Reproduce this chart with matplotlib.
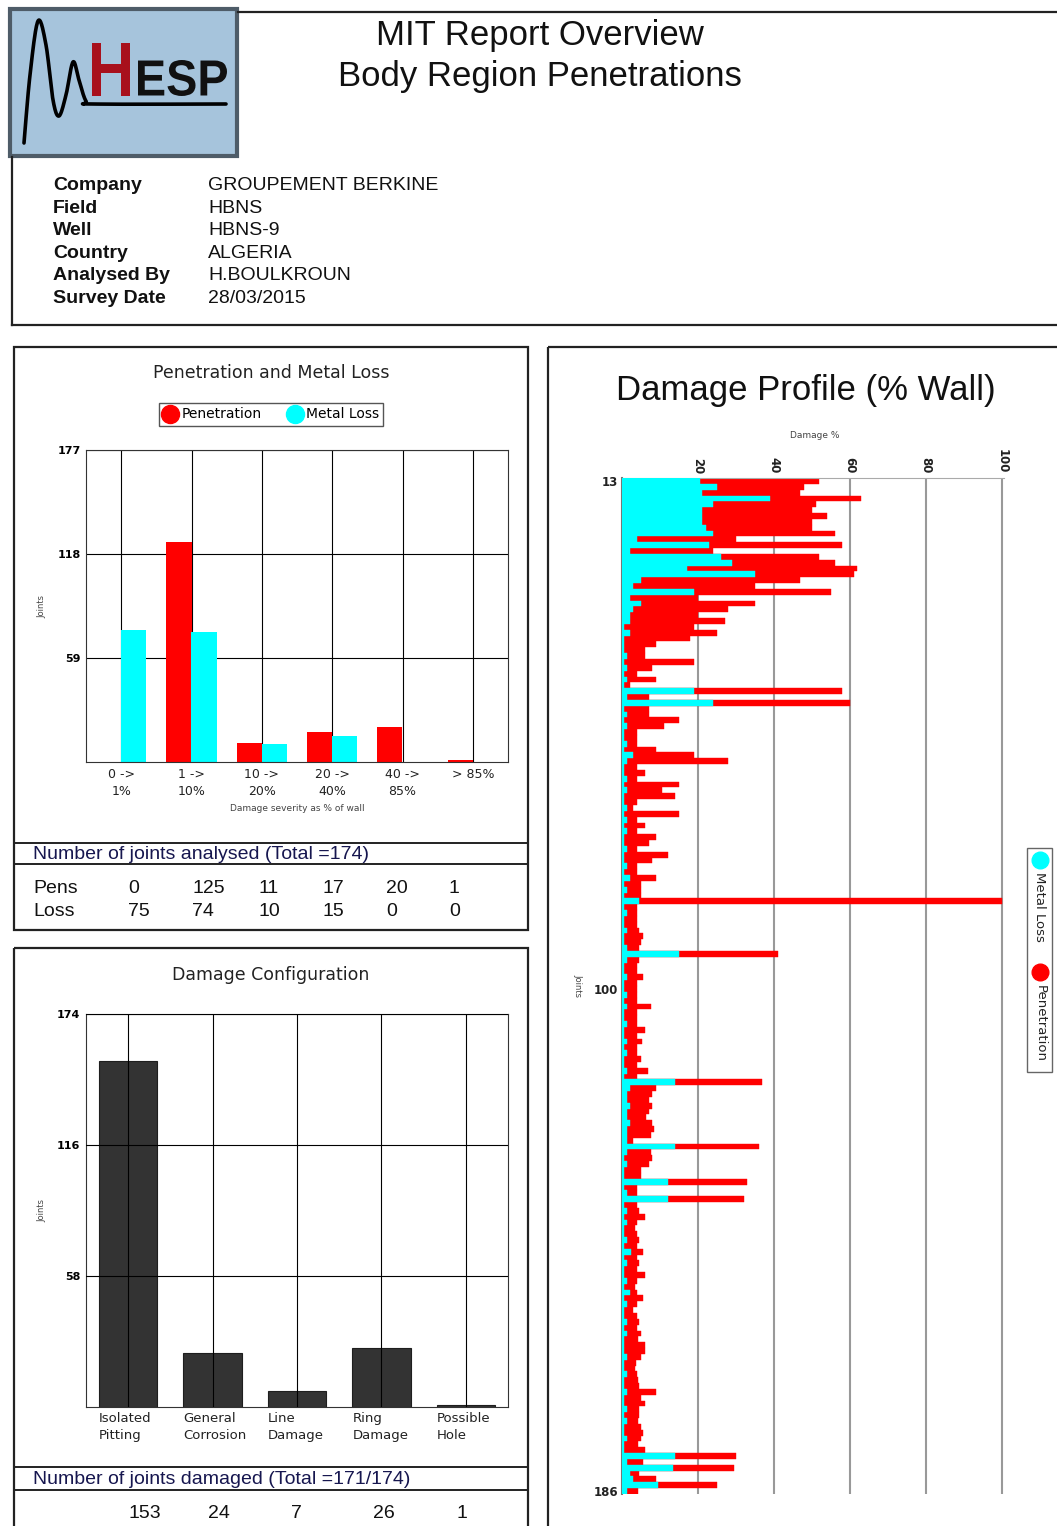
import numpy as np
import matplotlib
matplotlib.use("Agg")
import matplotlib.pyplot as plt
from matplotlib.patches import Rectangle, PathPatch
from matplotlib.textpath import TextPath
from matplotlib.font_manager import FontProperties
from matplotlib.transforms import Affine2D
from matplotlib.lines import Line2D

W, H, DPI = 1057, 1526, 100
RED = "#ff0000"
CYAN = "#00ffff"
NAVY = "#16164f"
SANS = "Liberation Sans"

# ---------------- report header ----------------
title_lines = ["MIT Report Overview", "Body Region Penetrations"]
info_labels = ["Company", "Field", "Well", "Country", "Analysed By", "Survey Date"]
info_values = ["GROUPEMENT BERKINE", "HBNS", "HBNS-9", "ALGERIA", "H.BOULKROUN", "28/03/2015"]

# ---------------- penetration / metal loss histogram ----------------
severity_bins = ["0 ->\n1%", "1 ->\n10%", "10 ->\n20%", "20 ->\n40%", "40 ->\n85%", "> 85%"]
pen_counts = [0, 125, 11, 17, 20, 1]
loss_counts = [75, 74, 10, 15, 0, 0]
severity_yticks = [59, 118, 177]
joints_analysed = 174

# ---------------- damage configuration ----------------
config_types = ["Isolated\nPitting", "General\nCorrosion", "Line\nDamage", "Ring\nDamage", "Possible\nHole"]
config_counts = [153, 24, 7, 26, 1]
config_yticks = [58, 116, 174]
joints_damaged = 171

# ---------------- damage profile, % of wall per joint (joints 13..186) ----------------
first_joint = 13
penetration = [
    # 13-40
    52, 48, 47, 63, 51, 50, 54, 50, 50, 56, 30, 58, 24, 52, 56, 62, 61, 47, 35, 55,
    20, 35, 28, 20, 27, 19, 25, 18,
    # 41-84
    9, 6, 6, 19, 8, 4, 9, 2, 58, 7, 60, 7, 7, 15, 11, 4, 4, 4, 9, 19,
    28, 4, 6, 4, 15, 10.5, 14, 4, 3, 15, 4, 6, 4, 9, 7, 4, 12, 8, 4, 4,
    9, 5, 5, 5,
    # 85
    100,
    # 86-93
    4, 4, 4, 4, 4.6, 5.5, 5, 4.6,
    # 94
    41,
    # 95-115
    4.6, 4, 4, 5.5, 4, 4, 4, 4, 7.6, 4, 4, 4, 6, 4, 5.3, 4, 4, 5, 4, 6.8, 4,
    # 116
    37,
    # 117-126
    9, 8, 7, 8, 7, 6.3, 8, 8.5, 7.6, 3,
    # 127
    36,
    # 128-132
    7.6, 8, 7, 5, 5,
    # 133-136
    33, 4, 4, 32,
    # 137-161
    4, 4.6, 6, 4, 3.3, 4, 4.6, 4, 5.5, 4, 4.6, 4, 6, 4, 3.3, 4, 5.5, 4, 3, 4,
    4.6, 4, 5, 4.3, 6,
    # 162-179
    6, 5, 3.8, 3.4, 4, 4.3, 4.5, 9, 5, 6, 4.5, 4.5, 4.3, 5, 5.6, 5, 4.3, 6,
    # 180-186
    30, 5.6, 29.6, 4.6, 9, 25, 4.3,
]
metal_loss = [
    # 13-40
    20.5, 25, 21, 39, 24, 21, 21, 21, 22, 24, 4, 23, 2, 26, 29, 17, 35, 5, 3, 19,
    2, 5, 3, 2, 2, 0.6, 2, 0.6,
    # 41-84
    0.6, 0.6, 1.2, 0.6, 1.2, 0.6, 1.2, 0.6, 19, 1.2, 24, 0.6, 1.2, 0.6, 1.2, 0.6, 0.6, 1.2, 0.6, 3,
    1.2, 0.6, 0.6, 1.2, 0.6, 1.2, 0.6, 0.6, 1.2, 0.6, 1.2, 0.6, 1.2, 0.6, 0.6, 1.2, 0.6, 0.6, 1.2, 0.6,
    2, 0.6, 1.2, 0.6,
    # 85
    4.5,
    # 86-93
    0.6, 1.2, 0.6, 0.6, 1.2, 0.6, 0.6, 1.2,
    # 94
    15,
    # 95-115
    1.2, 0.6, 0.6, 1.2, 0.6, 0.6, 1.2, 0.6, 1.2, 0.6, 0.6, 1.2, 0.6, 0.6, 1.2, 0.6, 1.2, 0.6, 0.6, 1.2, 0.6,
    # 116
    14,
    # 117-126
    2, 1.2, 1.2, 2, 1.2, 1.2, 2, 1.2, 1.2, 1.2,
    # 127
    14,
    # 128-132
    1.2, 0.6, 1.2, 0.6, 0.6,
    # 133-136
    12, 0.6, 1.2, 12,
    # 137-161
    0.6, 1.2, 0.6, 1.2, 0.6, 0.6, 1.2, 0.6, 2.5, 0.6, 1.2, 0.6, 0.6, 1.2, 0.6, 2, 0.6, 1.2, 0.6, 0.6,
    1.2, 0.6, 1.2, 0.6, 0.6,
    # 162-179
    0.6, 1.2, 0.6, 0.6, 1.2, 0.6, 0.6, 1.2, 0.6, 0.6, 1.2, 0.6, 1.2, 0.6, 0.6, 1.2, 0.6, 0.6,
    # 180-186
    14, 1.2, 13.5, 2, 3, 9.5, 1.2,
]
profile_xticks = [20, 40, 60, 80, 100]
profile_yticks = [13, 100, 186]

# ================= figure and page layer (pixel coordinates) =================
fig = plt.figure(figsize=(W / DPI, H / DPI), dpi=DPI)
fig.patch.set_facecolor("white")
page = fig.add_axes([0, 0, 1, 1])
page.set_xlim(0, W)
page.set_ylim(H, 0)
page.axis("off")


def px_axes(x0, y0, x1, y1):
    return fig.add_axes([x0 / W, 1 - y1 / H, (x1 - x0) / W, (y1 - y0) / H])


def rule(xs, ys, lw=1.6, color="#222222"):
    page.plot(xs, ys, color=color, lw=lw, solid_capstyle="projecting")


# header frame
rule([238, W], [12, 12])
rule([12, 12], [157, 325])
rule([12, W], [325, 325])

# logo block
page.add_patch(Rectangle((10, 9), 227, 147, facecolor="#a6c4dc", edgecolor="#4e5c68", lw=3))


def catmull_rom(points, n=16):
    p = np.asarray(points, float)
    p = np.vstack([p[0], p, p[-1]])
    out = []
    t = np.linspace(0, 1, n, endpoint=False)[:, None]
    for i in range(1, len(p) - 2):
        p0, p1, p2, p3 = p[i - 1], p[i], p[i + 1], p[i + 2]
        out.append(0.5 * ((2 * p1) + (-p0 + p2) * t + (2 * p0 - 5 * p1 + 4 * p2 - p3) * t ** 2
                          + (-p0 + 3 * p1 - 3 * p2 + p3) * t ** 3))
    out.append(p[-2][None, :])
    return np.vstack(out)


wave = catmull_rom([(24, 143), (30, 75), (38, 21), (46, 45), (53, 100), (59, 116),
                    (66, 95), (73, 62), (79, 80), (86, 101), (95, 104), (226, 104)])
page.plot(wave[:, 0], wave[:, 1], color="black", lw=2.6, solid_capstyle="round")

logo_font = FontProperties(family=SANS, weight="bold")


def glyphs(text, box, color):
    tp = TextPath((0, 0), text, size=100, prop=logo_font)
    ext = tp.get_extents()
    x0, y0, x1, y1 = box
    tr = (Affine2D().translate(-ext.x0, -ext.y0)
          .scale((x1 - x0) / ext.width, -(y1 - y0) / ext.height)
          .translate(x0, y1) + page.transData)
    page.add_patch(PathPatch(tp, transform=tr, facecolor=color, edgecolor="none"))


glyphs("H", (92, 43, 130, 96), "#a8101c")
glyphs("ESP", (138, 60, 227, 96), "#111111")

# titles
page.text(540, 45, title_lines[0], fontsize=25, family=SANS, ha="center", va="baseline", color="#111")
page.text(540, 86, title_lines[1], fontsize=25, family=SANS, ha="center", va="baseline", color="#111")

# survey information
for k, (lab, val) in enumerate(zip(info_labels, info_values)):
    yb = 190 + k * 22.6
    page.text(53, yb, lab, fontsize=14, family=SANS, weight="bold", va="baseline", color="#111")
    page.text(208, yb, val, fontsize=14, family=SANS, va="baseline", color="#111")

# panel frames
for (x0, y0, w, h) in [(14, 347, 514, 583), (14, 948, 514, 640), (548, 347, 600, 1240)]:
    page.add_patch(Rectangle((x0, y0), w, h, fill=False, edgecolor="#222222", lw=1.6))

# ================= Penetration and Metal Loss =================
page.text(271, 373, "Penetration and Metal Loss", fontsize=12.5, family="DejaVu Sans",
          ha="center", va="center", color="#222")
ax1 = px_axes(86, 450, 508, 762)
xs = np.arange(len(severity_bins))
bw = 0.36
ax1.bar(xs - bw / 2, pen_counts, bw, color=RED, label="Penetration", zorder=2)
ax1.bar(xs + bw / 2, loss_counts, bw, color=CYAN, label="Metal Loss", zorder=2)
ax1.set_xlim(-0.5, len(severity_bins) - 0.5)
ax1.set_ylim(0, severity_yticks[-1])
ax1.set_yticks(severity_yticks)
ax1.set_yticklabels([str(v) for v in severity_yticks], fontsize=8, weight="bold")
ax1.set_xticks(xs)
ax1.set_xticklabels(severity_bins, fontsize=9, linespacing=1.45, color="#222")
ax1.tick_params(length=0, pad=4)
ax1.set_axisbelow(True)
ax1.grid(True, color="black", lw=0.8)
for s in ax1.spines.values():
    s.set_color("#333")
    s.set_linewidth(0.8)
ax1.set_xlabel("Damage severity as % of wall", fontsize=6.5, color="#444", labelpad=4)
page.text(42, 606, "Joints", rotation=90, fontsize=6, ha="center", va="center", color="#444")

handles = [Line2D([], [], ls="none", marker="o", ms=13, markerfacecolor=RED, markeredgecolor=RED,
                  label="Penetration"),
           Line2D([], [], ls="none", marker="o", ms=13, markerfacecolor=CYAN, markeredgecolor=CYAN,
                  label="Metal Loss")]
leg = ax1.legend(handles=handles, ncol=2, loc="center", bbox_to_anchor=(271 / W, 1 - 414.5 / H),
                 bbox_transform=fig.transFigure, fancybox=False, edgecolor="#555", fontsize=10,
                 handletextpad=0.3, columnspacing=1.9, borderpad=0.3, handlelength=1.0,
                 framealpha=1, borderaxespad=0)
leg.get_frame().set_linewidth(1.0)

# analysed table
rule([14, 528], [843, 843], lw=1.4)
rule([14, 528], [864, 864], lw=1.4)
page.text(33, 859, f"Number of joints analysed (Total ={joints_analysed})", fontsize=14,
          family=SANS, va="baseline", color=NAVY)
col_x = [128, 192, 258, 322, 386, 449]
page.text(33, 893, "Pens", fontsize=14, family=SANS, va="baseline", color="#111")
page.text(33, 916, "Loss", fontsize=14, family=SANS, va="baseline", color="#111")
for cx, p, l in zip(col_x, pen_counts, loss_counts):
    page.text(cx, 893, str(p), fontsize=14, family=SANS, va="baseline", color="#111")
    page.text(cx, 916, str(l), fontsize=14, family=SANS, va="baseline", color="#111")

# ================= Damage Configuration =================
page.text(271, 975, "Damage Configuration", fontsize=12.5, family="DejaVu Sans",
          ha="center", va="center", color="#222")
ax2 = px_axes(86, 1014, 508, 1407)
xc = np.arange(len(config_types))
cw = 0.69
ax2.bar(xc, config_counts, cw, color="#333333", edgecolor="#1e1e1e", lw=0.8, zorder=1)
ax2.set_xlim(-0.5, len(config_types) - 0.5)
ax2.set_ylim(0, config_yticks[-1])
ax2.set_yticks(config_yticks)
ax2.set_yticklabels([str(v) for v in config_yticks], fontsize=8, weight="bold")
ax2.set_xticks(xc)
ax2.set_xticklabels([])
ax2.tick_params(length=0, pad=4)
ax2.set_axisbelow(False)
ax2.grid(True, color="black", lw=0.8)
for s in ax2.spines.values():
    s.set_color("#333")
    s.set_linewidth(0.8)
for i, lab in enumerate(config_types):
    ax2.text(i - cw / 2, -0.012, lab, transform=ax2.get_xaxis_transform(), ha="left", va="top",
             fontsize=9.5, linespacing=1.45, color="#222")
page.text(42, 1210, "Joints", rotation=90, fontsize=6, ha="center", va="center", color="#444")

rule([14, 528], [1467, 1467], lw=1.4)
rule([14, 528], [1490, 1490], lw=1.4)
page.text(33, 1484, f"Number of joints damaged (Total ={joints_damaged}/{joints_analysed})",
          fontsize=14, family=SANS, va="baseline", color=NAVY)
for cx, v in zip([128, 208, 291, 373, 457], config_counts):
    page.text(cx, 1518, str(v), fontsize=14, family=SANS, va="baseline", color="#111")

# ================= Damage Profile =================
page.text(806, 400, "Damage Profile (% Wall)", fontsize=25, family=SANS, ha="center",
          va="baseline", color="#111")
page.text(815, 436, "Damage %", fontsize=6.5, ha="center", va="center", color="#444")
page.text(578, 985, "Joints", rotation=-90, fontsize=6, ha="center", va="center", color="#444")

ax3 = px_axes(622, 478, 1004, 1494)
joints = first_joint + np.arange(len(penetration))
ax3.barh(joints, penetration, height=1.0, color=RED, edgecolor=RED, lw=0.3, zorder=2)
ax3.barh(joints, metal_loss, height=1.0, color=CYAN, edgecolor=CYAN, lw=0.3, zorder=3)
ax3.set_ylim(joints[-1] + 0.5, joints[0] - 0.5)
ax3.set_xlim(0, 100.6)
ax3.xaxis.tick_top()
ax3.set_xticks(profile_xticks)
ax3.set_xticklabels([str(v) for v in profile_xticks], rotation=-90, fontsize=8.5, weight="bold",
                    color="#222")
ax3.set_yticks(profile_yticks)
ax3.set_yticklabels([str(v) for v in profile_yticks], fontsize=8.5, weight="bold", color="#222")
ax3.tick_params(length=0, pad=3)
ax3.set_axisbelow(True)
ax3.grid(True, axis="x", color="#999999", lw=1.5)
ax3.spines["right"].set_visible(False)
ax3.spines["bottom"].set_visible(False)
ax3.spines["left"].set_color("#777")
ax3.spines["left"].set_linewidth(1.5)
ax3.spines["top"].set_color("#aaa")
ax3.spines["top"].set_linewidth(0.8)

# vertical legend of the profile
page.add_patch(Rectangle((1027, 848), 25, 224, fill=False, edgecolor="#666", lw=1))
page.plot([1040], [860], "o", ms=12, color=CYAN)
page.text(1040, 872, "Metal Loss", rotation=-90, ha="center", va="top", fontsize=9.5, color="#222")
page.plot([1040], [972], "o", ms=12, color=RED)
page.text(1040, 985, "Penetration", rotation=-90, ha="center", va="top", fontsize=9.5, color="#222")

fig.savefig("out.png", dpi=DPI, facecolor="white")
